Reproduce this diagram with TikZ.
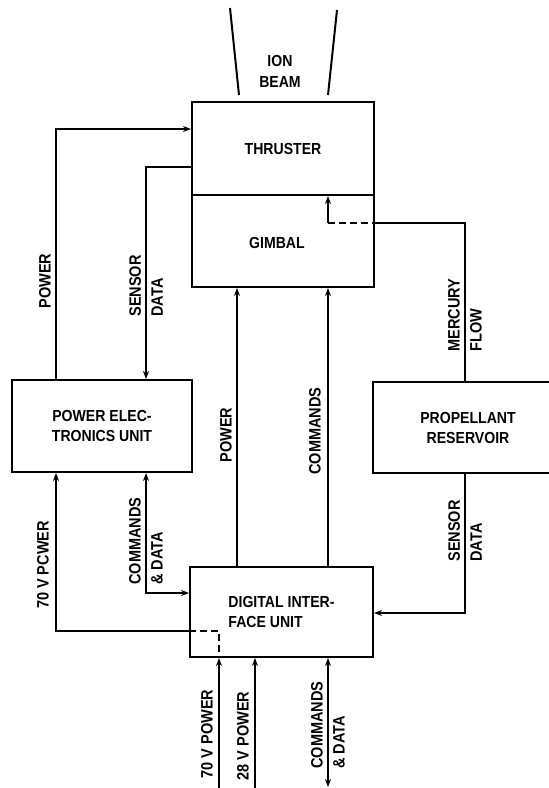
\documentclass[tikz,border=0pt]{standalone}
\usepackage{fontspec}
\setmainfont[FakeStretch=0.88]{Liberation Sans}
\usetikzlibrary{arrows.meta,calc}
\begin{document}
\begin{tikzpicture}[x=1pt,y=-1pt,
  ln/.style={line width=2pt},
  arr/.style={ln,-{Stealth[length=8pt,width=6pt]}},
  darr/.style={ln,{Stealth[length=8pt,width=6pt]}-{Stealth[length=8pt,width=6pt]}},
  dsh/.style={ln,dash pattern=on 7pt off 4pt},
  box/.style={draw,line width=2pt,inner sep=0pt,font=\bfseries\fontsize{16}{20}\selectfont,align=center},
  lab/.style={rotate=90,font=\bfseries\fontsize{16.5}{22}\selectfont,align=left,inner sep=0pt}]
\useasboundingbox (0,0) rectangle (549,788);
% boxes
\node[box,minimum width=182pt,minimum height=93pt] (thr) at (283,148.5) {THRUSTER};
\node[box,minimum width=182pt,minimum height=92pt] (gim) at (283,241) {};
\node[font=\bfseries\fontsize{16}{20}\selectfont] (gimt) at (277,243) {GIMBAL};
\node[box,minimum width=180pt,minimum height=92pt] (peu) at (102,426) {POWER ELEC-\\TRONICS UNIT};
\node[box,minimum width=190pt,minimum height=91pt] (pr) at (468,427.5) {PROPELLANT\\RESERVOIR};
\node[box,minimum width=183pt,minimum height=90pt,align=left] (diu) at (281.5,612) {DIGITAL INTER-\\FACE UNIT};
% ion beam
\coordinate (ib1) at (230,8); \coordinate (ib2) at (239,95);
\coordinate (ib3) at (337,10); \coordinate (ib4) at (328,95);
\draw[ln] (ib1) -- (ib2);
\draw[ln] (ib3) -- (ib4);
\node[font=\bfseries\fontsize{16}{21}\selectfont,align=center] (ion) at (280,71) {ION\\BEAM};
% helper coordinates
\coordinate (cpow) at (56,129);
\coordinate (csen) at (146,167);
\coordinate (xgp) at (237,400);
\coordinate (xcm) at (328,400);
\coordinate (cmer) at (465,223);
\coordinate (cdsh) at (328,223);
\coordinate (csd) at (465,613);
\coordinate (c70) at (56,631);
\coordinate (c70d) at (219,631);
\coordinate (ccd) at (146,593);
\coordinate (b70) at (219,788);
\coordinate (b28) at (255,788);
\coordinate (bcd) at (328,787);
% connectors
\draw[arr] (peu.north -| cpow) -- (cpow) -- (thr.west |- cpow);
\draw[arr] (thr.west |- csen) -- (csen) -- (peu.north -| csen);
\draw[arr] (diu.north -| xgp) -- (gim.south -| xgp);
\draw[arr] (diu.north -| xcm) -- (gim.south -| xcm);
\draw[ln,-{Stealth[length=8pt,width=6pt]}] (cdsh) -- (thr.south -| cdsh);
\draw[dsh] (cdsh) -- (gim.east |- cdsh);
\draw[ln] (gim.east |- cmer) -- (cmer) -- (pr.north -| cmer);
\draw[arr] (pr.south -| csd) -- (csd) -- (diu.east |- csd);
\draw[arr] (diu.west |- c70) -- (c70) -- (peu.south -| c70);
\draw[dsh] (diu.west |- c70) -- (c70d) -- (diu.south -| c70d);
\draw[darr] (peu.south -| ccd) -- (ccd) -- (diu.west |- ccd);
\draw[arr] (b70) -- (diu.south -| b70);
\draw[arr] (b28) -- (diu.south -| b28);
\draw[darr] (bcd) -- (diu.south -| bcd);
% labels
\node[lab] (lpow) at (45,281) {POWER};
\node[lab] (lsen) at (146,286) {SENSOR\\DATA};
\node[lab] (lgp) at (226,435) {POWER};
\node[lab] (lcm) at (315,431) {COMMANDS};
\node[lab] (lmer) at (465,315) {MERCURY\\FLOW};
\node[lab] (lsd) at (465,531) {SENSOR\\DATA};
\node[lab] (l70) at (43,565) {70 V PCWER};
\node[lab] (lcd) at (146,541) {COMMANDS\\\& DATA};
\node[lab] (lb70) at (207,734) {70 V POWER};
\node[lab] (lb28) at (243,736) {28 V POWER};
\node[lab] (lbcd) at (328,725) {COMMANDS\\\& DATA};
\end{tikzpicture}
\end{document}
